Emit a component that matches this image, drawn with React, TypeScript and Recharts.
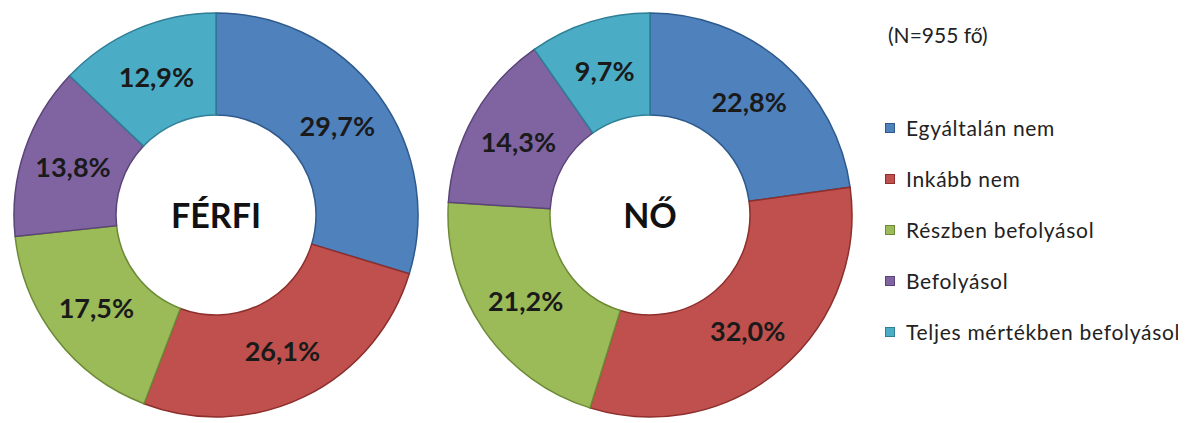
import React from "react";
import { PieChart, Pie, Cell, Legend } from "recharts";

const categories = [
  "Egyáltalán nem",
  "Inkább nem",
  "Részben befolyásol",
  "Befolyásol",
  "Teljes mértékben befolyásol",
];
const ferfiValues = [29.7, 26.1, 17.5, 13.8, 12.9];
const noValues = [22.8, 32.0, 21.2, 14.3, 9.7];
const colors = ["#4F81BD", "#C0504D", "#9BBB59", "#8064A2", "#4BACC6"];
const strokes = ["#2f5a8c", "#8c2f2d", "#6d8a36", "#5a4478", "#2f7f96"];
const noteText = "(N=955 fő)";
const ferfiTitle = "FÉRFI";
const noTitle = "NŐ";

const ferfiData = categories.map((name, i) => ({ name, value: ferfiValues[i] }));
const noData = categories.map((name, i) => ({ name, value: noValues[i] }));

const FONT = "Lato, 'Open Sans', sans-serif";
const RAD = Math.PI / 180;

const renderLabel = (props: any) => {
  const { cx, cy, midAngle, innerRadius, outerRadius, value } = props;
  const r = (innerRadius + outerRadius) / 2;
  const x = cx + r * Math.cos(-midAngle * RAD);
  const y = cy + r * Math.sin(-midAngle * RAD);
  return (
    <text
      x={x}
      y={y}
      textAnchor="middle"
      dominantBaseline="central"
      fill="#1a1a1a"
      fontFamily={FONT}
      fontWeight={700}
      fontSize={27}
    >
      {value.toFixed(1).replace(".", ",") + "%"}
    </text>
  );
};

const LegendContent = () => (
  <div style={{ fontFamily: FONT, color: "#222" }}>
    <div style={{ fontSize: 21, marginLeft: 3, height: 30, lineHeight: "30px" }}>{noteText}</div>
    <div style={{ height: 52 }} />
    {categories.map((c, i) => (
      <div
        key={c}
        style={{ display: "flex", alignItems: "center", height: 51, fontSize: 21, letterSpacing: 0.7 }}
      >
        <span
          style={{
            display: "inline-block",
            width: 10,
            height: 10,
            background: colors[i],
            border: `1px solid ${strokes[i]}`,
            marginRight: 11,
            boxSizing: "border-box",
          }}
        />
        {c}
      </div>
    ))}
  </div>
);

const titleStyle = (cx: number): React.CSSProperties => ({
  position: "absolute",
  left: cx - 100,
  top: 207 - 22,
  width: 200,
  height: 44,
  lineHeight: "44px",
  textAlign: "center",
  fontFamily: FONT,
  fontWeight: 700,
  fontSize: 34,
  color: "#111",
  pointerEvents: "none",
});

export default function App() {
  return (
    <div style={{ position: "relative", width: 1170, height: 415 }}>
      <PieChart width={1170} height={415} margin={{ top: 0, right: 0, bottom: 0, left: 0 }}>
        <Pie
          data={ferfiData}
          dataKey="value"
          cx={208}
          cy={207}
          innerRadius={100}
          outerRadius={202}
          startAngle={90}
          endAngle={-270}
          label={renderLabel}
          labelLine={false}
          isAnimationActive={false}
        >
          {ferfiData.map((d, i) => (
            <Cell key={d.name} fill={colors[i]} stroke={strokes[i]} strokeWidth={1.5} />
          ))}
        </Pie>
        <Pie
          data={noData}
          dataKey="value"
          cx={642}
          cy={207}
          innerRadius={100}
          outerRadius={202}
          startAngle={90}
          endAngle={-270}
          label={renderLabel}
          labelLine={false}
          isAnimationActive={false}
        >
          {noData.map((d, i) => (
            <Cell key={d.name} fill={colors[i]} stroke={strokes[i]} strokeWidth={1.5} />
          ))}
        </Pie>
        <Legend
          content={<LegendContent />}
          wrapperStyle={{ position: "absolute", left: 877, top: 12, width: 300, bottom: "auto" }}
        />
      </PieChart>
      <div style={titleStyle(208)}>{ferfiTitle}</div>
      <div style={titleStyle(642)}>{noTitle}</div>
    </div>
  );
}
